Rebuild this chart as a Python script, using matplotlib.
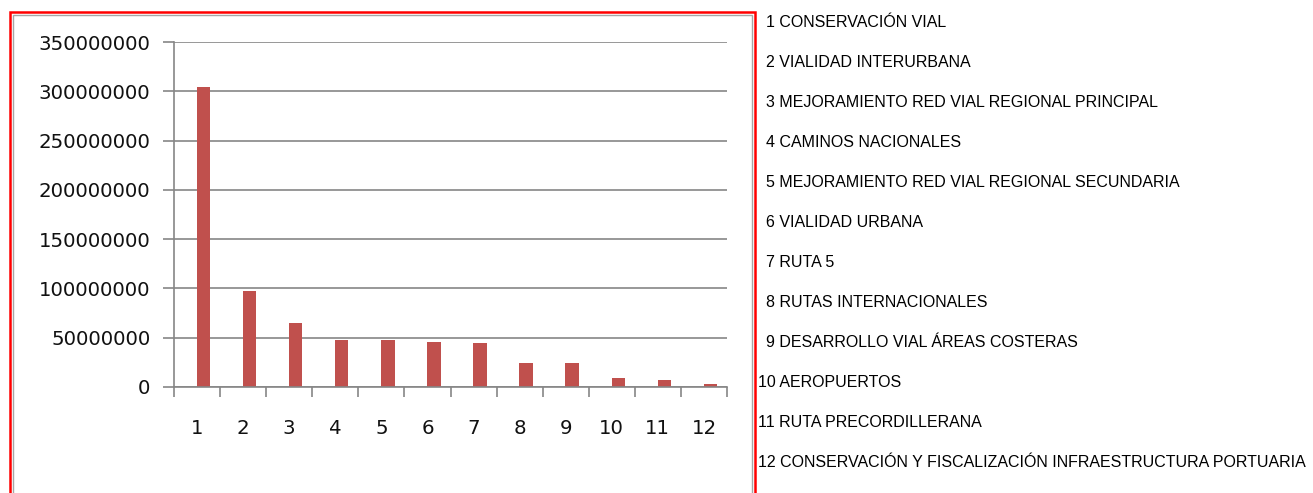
import matplotlib
matplotlib.use("Agg")
import matplotlib.pyplot as plt
import numpy as np
from matplotlib.patches import Rectangle

categories = ["1", "2", "3", "4", "5", "6", "7", "8", "9", "10", "11", "12"]
values = [304000000, 97000000, 64500000, 47700000, 47700000, 46000000,
          44300000, 24000000, 24000000, 8800000, 7100000, 3000000]
yticks = [0, 50000000, 100000000, 150000000, 200000000, 250000000, 300000000, 350000000]
legend_items = [
    "CONSERVACIÓN VIAL",
    "VIALIDAD INTERURBANA",
    "MEJORAMIENTO RED VIAL REGIONAL PRINCIPAL",
    "CAMINOS NACIONALES",
    "MEJORAMIENTO RED VIAL REGIONAL SECUNDARIA",
    "VIALIDAD URBANA",
    "RUTA 5",
    "RUTAS INTERNACIONALES",
    "DESARROLLO VIAL ÁREAS COSTERAS",
    "AEROPUERTOS",
    "RUTA PRECORDILLERANA",
    "CONSERVACIÓN Y FISCALIZACIÓN INFRAESTRUCTURA PORTUARIA",
]

W, H = 1313, 493
fig = plt.figure(figsize=(W / 100, H / 100), dpi=100)
fig.patch.set_facecolor("white")

def fx(px):
    return px / W

def fy(py):
    return 1 - py / H

ax = fig.add_axes([fx(174), fy(387), fx(727) - fx(174), fy(42) - fy(387)])
n = len(categories)
idx = np.arange(n)
ax.bar(idx + 0.14, values, width=0.29, color="#C0504D", zorder=3)
ax.set_xlim(-0.5, n - 0.5)
ax.set_ylim(0, 350000000)

grid_c = "#868686"
ax.set_yticks(yticks)
ax.set_yticklabels([str(v) for v in yticks])
ax.yaxis.grid(True, color=grid_c, linewidth=1.2, zorder=0)
ax.set_xticks(np.arange(n + 1) - 0.5)
ax.set_xticklabels([])
ax.set_xticks(idx, minor=True)
ax.set_xticklabels(categories, minor=True)
ax.tick_params(axis="x", which="major", length=7, width=1.2, color=grid_c, direction="out")
ax.tick_params(axis="x", which="minor", length=0, pad=23, labelsize=14.2, labelcolor="#111111")
ax.tick_params(axis="y", length=8, width=1.2, color=grid_c, direction="out", pad=9,
               labelsize=14.2, labelcolor="#111111")
for s in ["top", "right"]:
    ax.spines[s].set_visible(False)
for s in ["left", "bottom"]:
    ax.spines[s].set_color(grid_c)
    ax.spines[s].set_linewidth(1.2)
ax.spines["bottom"].set_zorder(4)

# borders
fig.add_artist(Rectangle((fx(13), fy(500)), fx(752) - fx(13), fy(15) - fy(500),
                         transform=fig.transFigure, fill=False, edgecolor="#A6A6A6", linewidth=1))
fig.add_artist(Rectangle((fx(10), fy(500)), fx(755) - fx(10), fy(12) - fy(500),
                         transform=fig.transFigure, fill=False, edgecolor="#FF0000", linewidth=1.8))

# side list
for i, label in enumerate(legend_items):
    num = str(i + 1)
    x0 = 766 if len(num) == 1 else 758
    fig.text(fx(x0), fy(27 + 40 * i), f"{num} {label}", ha="left", va="baseline",
             fontsize=11.5, family="Liberation Sans", color="black")

fig.savefig("out.png", dpi=100, facecolor="white")
